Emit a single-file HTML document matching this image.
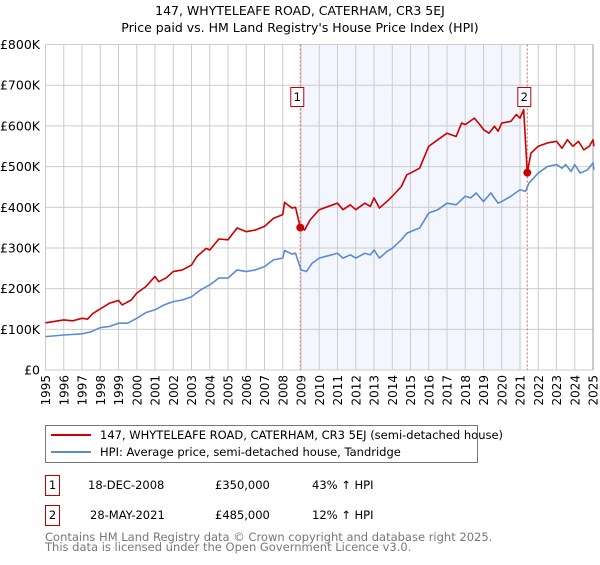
<!DOCTYPE html>
<html><head><meta charset="utf-8"><style>
body{margin:0;background:#fff;font-family:"Liberation Sans","DejaVu Sans",sans-serif;}
svg text{font-family:"DejaVu Sans","Liberation Sans",sans-serif;}
</style></head><body>
<svg id="c" width="600" height="560" xmlns="http://www.w3.org/2000/svg">
<text x="300" y="15" font-size="12.5" text-anchor="middle" fill="#000">147, WHYTELEAFE ROAD, CATERHAM, CR3 5EJ</text>
<text x="300" y="32" font-size="12.5" text-anchor="middle" fill="#000">Price paid vs. HM Land Registry's House Price Index (HPI)</text>
<g id="grid"></g><g id="marks"></g>
<g>
<rect x="45.5" y="425.5" width="432" height="37" fill="#fff" stroke="#777"/>
<line x1="51" y1="435" x2="91" y2="435" stroke="#cc0000" stroke-width="2"/>
<text x="100" y="439" font-size="11.5">147, WHYTELEAFE ROAD, CATERHAM, CR3 5EJ (semi-detached house)</text>
<line x1="51" y1="452" x2="91" y2="452" stroke="#5b8bd0" stroke-width="2"/>
<text x="100" y="456" font-size="11.5">HPI: Average price, semi-detached house, Tandridge</text>
</g>
<g font-size="11.5">
<rect x="45.5" y="475.5" width="14" height="20" fill="#fff" stroke="#b00"/><text x="52.5" y="489" text-anchor="middle">1</text>
<text x="88" y="489">18-DEC-2008</text><text x="215" y="489">£350,000</text><text x="312" y="489">43% ↑ HPI</text>
<rect x="45.5" y="505.5" width="14" height="20" fill="#fff" stroke="#b00"/><text x="52.5" y="519" text-anchor="middle">2</text>
<text x="90" y="519">28-MAY-2021</text><text x="215" y="519">£485,000</text><text x="312" y="519">12% ↑ HPI</text>
</g>
<text x="45" y="541" font-size="11.5" fill="#777">Contains HM Land Registry data © Crown copyright and database right 2025.</text>
<text x="45" y="551" font-size="11.5" fill="#777">This data is licensed under the Open Government Licence v3.0.</text>
</svg>
<script>
const hpiYears=[1995,1996,1997,1997.5,1998,1998.5,1999,1999.5,2000,2000.5,2001,2001.5,2002,2002.5,2003,2003.5,2004,2004.5,2005,2005.5,2006,2006.5,2007,2007.5,2008,2008.1,2008.5,2008.7,2009,2009.3,2009.6,2010,2010.5,2011,2011.3,2011.7,2012,2012.5,2012.8,2013,2013.3,2013.7,2014,2014.5,2014.8,2015,2015.5,2016,2016.5,2017,2017.5,2018,2018.3,2018.6,2019,2019.4,2019.8,2020,2020.5,2021,2021.3,2021.5,2022,2022.5,2023,2023.3,2023.5,2023.8,2024,2024.3,2024.7,2025,2025.05];
const hpiValues=[82,86,89,94,104,107,115,115,127,141,148,160,168,172,180,197,209,226,226,246,242,246,254,271,275,294,285,287,246,242,262,275,281,287,275,283,275,287,283,295,275,291,299,320,336,340,349,386,394,410,406,427,423,435,414,435,410,414,427,443,439,460,484,500,505,496,505,488,505,484,492,509,492];
const priceYears=[1995,1996,1996.5,1997,1997.3,1997.6,1998,1998.5,1999,1999.2,1999.7,2000,2000.5,2001,2001.2,2001.6,2002,2002.5,2003,2003.3,2003.8,2004,2004.5,2005,2005.5,2006,2006.5,2007,2007.5,2008,2008.1,2008.5,2008.7,2008.96,2009.2,2009.5,2010,2010.5,2011,2011.3,2011.7,2012,2012.5,2012.8,2013,2013.3,2013.8,2014,2014.5,2014.8,2015,2015.5,2016,2016.5,2017,2017.5,2017.8,2018,2018.5,2018.8,2019,2019.3,2019.6,2019.8,2020,2020.5,2020.8,2021,2021.2,2021.4,2021.6,2022,2022.5,2023,2023.3,2023.6,2023.9,2024.2,2024.5,2024.8,2025,2025.05];
const priceValues=[116,123,121,127,125,139,150,164,171,160,172,189,205,230,217,226,242,246,258,279,299,295,322,320,349,340,344,353,373,382,412,398,400,350,344,369,394,402,410,394,406,394,410,402,423,398,418,427,451,480,484,496,550,566,582,574,607,603,619,603,591,582,599,587,607,611,628,619,640,485,533,550,558,562,545,566,550,562,541,550,566,550];
const saleYears=[2008.96,2021.4];
const saleValues=[350,485];
const saleLabels=["1","2"];
const yTicks=[0,100,200,300,400,500,600,700,800];
const yTickLabels=["£0","£100K","£200K","£300K","£400K","£500K","£600K","£700K","£800K"];
const xTicks=[1995,1996,1997,1998,1999,2000,2001,2002,2003,2004,2005,2006,2007,2008,2009,2010,2011,2012,2013,2014,2015,2016,2017,2018,2019,2020,2021,2022,2023,2024,2025];
const NS="http://www.w3.org/2000/svg";
const X0=45.5,X1=593,Y0=370,Y1=44.5;
const sx=y=>X0+(y-1995)/30*(X1-X0);
const sy=v=>Y0-v/800*(Y0-Y1);
function mk(t,a,p){const e=document.createElementNS(NS,t);for(const k in a)e.setAttribute(k,a[k]);p.appendChild(e);return e;}
const g=document.getElementById('grid'),m=document.getElementById('marks');
const sh=mk('rect',{x:sx(saleYears[0]),y:Y1,width:sx(2021.1)-sx(saleYears[0]),height:Y0-Y1,fill:'#eef2fd',opacity:0.7},g);


xTicks.forEach(y=>{
 const l=mk('line',{x1:sx(y),x2:sx(y),y1:Y1,y2:Y0,stroke:'#ccc','stroke-width':1},g);
 
 
 const t=mk('text',{x:0,y:0,'font-size':12,'text-anchor':'end',transform:`translate(${sx(y)+4.5},${Y0+5}) rotate(-90)`},g);
 t.textContent=y;
 
 
});
yTicks.forEach((v,i)=>{
 const l=mk('line',{x1:X0,x2:X1,y1:sy(v),y2:sy(v),stroke:'#ccc','stroke-width':1},g);
 
 
 const t=mk('text',{x:40,y:sy(v)+4.5,'font-size':12.5,'text-anchor':'end'},g);
 t.textContent=yTickLabels[i];
 
 
});
const bd=mk('line',{x1:X1,x2:X1,y1:Y1,y2:Y0,stroke:'#999','stroke-width':1},g);


saleYears.forEach((y,i)=>{
 const l=mk('line',{x1:sx(y),x2:sx(y),y1:Y1,y2:Y0,stroke:'#e06060','stroke-width':1,'stroke-dasharray':'2,2'},m);
 
 
});
function line(xs,vs,c,name){
 const p=mk('polyline',{points:xs.map((x,i)=>sx(x)+','+sy(vs[i])).join(' '),fill:'none',stroke:c,'stroke-width':1.6,'stroke-linejoin':'round'},m);
 
 
}
line(hpiYears,hpiValues,'#5b8bd0','hpi-line');
line(priceYears,priceValues,'#cc0000','property-price-line');
saleYears.forEach((y,i)=>{
 const c=mk('circle',{cx:sx(y),cy:sy(saleValues[i]),r:4,fill:'#cc0000'},m);
 
 
 const r=mk('rect',{x:sx(y)-9.5,y:87.5,width:13,height:19,fill:'#fff',stroke:'#b00'},m);
 
 
 const t=mk('text',{x:sx(y)-3,y:101,'font-size':11.5,'text-anchor':'middle'},m);
 t.textContent=saleLabels[i];
 
 
});
</script>
</body></html>
